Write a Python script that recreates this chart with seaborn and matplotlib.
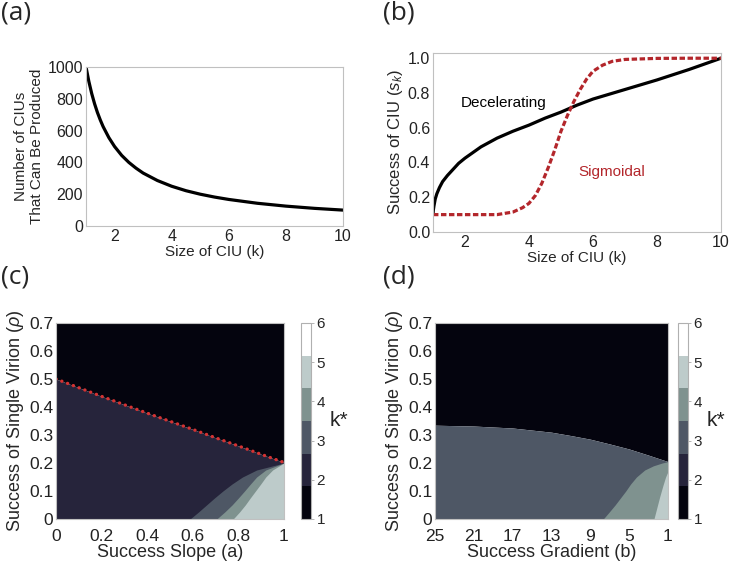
import numpy as np
import matplotlib
matplotlib.use("Agg")
import matplotlib.pyplot as plt
import seaborn as sns
from matplotlib.colors import ListedColormap, BoundaryNorm
import matplotlib.cm as cm

# ---------------- data ----------------
# (a) number of CIUs vs size of CIU
k_a = [1.0, 1.1, 1.2, 1.3, 1.4, 1.5, 1.6, 1.8, 2.0, 2.25, 2.5, 2.75, 3.0, 3.5,
       4.0, 4.5, 5.0, 5.5, 6.0, 7.0, 8.0, 9.0, 10.0]
n_a = [1000, 909, 833, 769, 714, 667, 625, 556, 500, 444, 400, 364, 333, 286,
       250, 222, 200, 182, 167, 143, 125, 111, 100]

# (b) success of CIU
k_dec = [1.0, 1.01, 1.03, 1.07, 1.12, 1.2, 1.3, 1.45, 1.6, 1.8, 2.0, 2.5, 3.0, 3.5, 4.0,
         4.5, 5.0, 5.5, 6.0, 7.0, 8.0, 9.0, 10.0]
s_dec = [0.10, 0.125, 0.15, 0.19, 0.22, 0.255, 0.29, 0.325, 0.355, 0.395, 0.425, 0.49,
         0.54, 0.58, 0.615, 0.655, 0.69, 0.73, 0.765, 0.82, 0.875, 0.935, 1.0]
k_sig = [1.0, 2.0, 3.0, 3.5, 3.8, 4.0, 4.2, 4.4, 4.6, 4.8, 5.0, 5.2, 5.4, 5.6,
         5.8, 6.0, 6.3, 6.6, 7.0, 8.0, 9.0, 10.0]
s_sig = [0.10, 0.10, 0.10, 0.115, 0.14, 0.165, 0.21, 0.28, 0.37, 0.47, 0.58,
         0.67, 0.75, 0.82, 0.88, 0.925, 0.96, 0.982, 0.993, 0.999, 1.0, 1.0]

# (c) k* regions vs success slope a
a_red = [0.0, 0.1, 0.2, 0.3, 0.4, 0.5, 0.6, 0.7, 0.8, 0.9, 1.0]
rho_red = [0.5, 0.469, 0.438, 0.408, 0.378, 0.349, 0.32, 0.29, 0.261, 0.231, 0.202]
rho_c = [0.0, 0.025, 0.05, 0.075, 0.1, 0.125, 0.15, 0.175, 0.2]
a_k3 = [0.588, 0.625, 0.66, 0.695, 0.732, 0.772, 0.818, 0.88, 1.0]
a_k4 = [0.705, 0.74, 0.772, 0.80, 0.827, 0.853, 0.88, 0.92, 1.0]
a_k5 = [0.777, 0.805, 0.83, 0.852, 0.875, 0.898, 0.92, 0.95, 1.0]

# (d) k* regions vs success gradient b
b_top = [25, 21, 17, 13, 11, 9, 7, 5, 3, 1]
rho_top = [0.335, 0.332, 0.325, 0.31, 0.298, 0.285, 0.268, 0.25, 0.228, 0.205]
rho_d4 = [0.0, 0.025, 0.05, 0.075, 0.1, 0.125, 0.15, 0.175, 0.19, 0.2, 0.205]
b_k4 = [7.67, 7.05, 6.45, 5.9, 5.35, 4.85, 4.25, 3.4, 2.5, 1.6, 1.0]
rho_d5 = [0.0, 0.04, 0.08, 0.12, 0.15, 0.17]
b_k5 = [2.45, 2.15, 1.85, 1.52, 1.25, 1.0]

kstar_levels = [1, 2, 3, 4, 5, 6]
kstar_colors = ["#04040e", "#26243b", "#4e5765", "#7f928f", "#bdcbca", "#ffffff"]

# ---------------- style ----------------
sns.set_theme(style="white")
plt.rcParams["font.family"] = ["Liberation Sans", "DejaVu Sans"]
plt.rcParams["mathtext.fontset"] = "custom"
plt.rcParams["mathtext.it"] = "Liberation Sans:italic"
plt.rcParams["mathtext.rm"] = "Liberation Sans"
TICK_AB = 11.5
LAB_AB = 11
TICK_CD = 12.5
LAB_CD = 13
SPINE = "#c0c0c0"

fig = plt.figure(figsize=(7.31, 5.65), dpi=100)

def style_axes(ax, size, minor=True, pad=2):
    for s in ax.spines.values():
        s.set_color(SPINE)
        s.set_linewidth(0.8)
    ax.tick_params(axis="both", labelsize=size, colors="#222222", direction="in",
                   length=3, width=0.6, color="#b0b0b0", pad=pad)
    if minor:
        ax.minorticks_on()
        ax.tick_params(which="minor", direction="in", length=1.5, width=0.5, color="#c8c8c8")

# (a)
axA = fig.add_axes([86/731, 1-226/565, 257/731, 159/565])
sns.lineplot(x=k_a, y=n_a, ax=axA, color="black", lw=2.3)
axA.set_xlim(1, 10)
axA.set_ylim(0, 1000)
axA.set_xticks([2, 4, 6, 8, 10])
axA.set_yticks([0, 200, 400, 600, 800, 1000])
style_axes(axA, TICK_AB)
axA.set_xlabel("Size of CIU (k)", fontsize=LAB_AB, labelpad=1)
axA.set_ylabel("Number of CIUs\nThat Can Be Produced", fontsize=LAB_AB, labelpad=3, linespacing=1.1)

# (b)
axB = fig.add_axes([433/731, 1-232/565, 288/731, 179/565])
sns.lineplot(x=k_dec, y=s_dec, ax=axB, color="black", lw=2.3)
sns.lineplot(x=k_sig, y=s_sig, ax=axB, color="#b3262b", lw=2.3)
axB.lines[-1].set_linestyle((0, (1.7, 0.8)))
axB.set_xlim(1, 10)
axB.set_ylim(0, 1.03)
axB.set_xticks([2, 4, 6, 8, 10])
axB.set_yticks([0, 0.2, 0.4, 0.6, 0.8, 1.0])
axB.set_yticklabels(["0.0", "0.2", "0.4", "0.6", "0.8", "1.0"])
style_axes(axB, TICK_AB)
axB.set_xlabel("Size of CIU (k)", fontsize=LAB_AB, labelpad=1)
axB.set_ylabel("Success of CIU ($s_k$)", fontsize=12, labelpad=2)
axB.text(3.2, 0.745, "Decelerating", fontsize=LAB_AB, ha="center", va="center", color="black")
axB.text(6.6, 0.345, "Sigmoidal", fontsize=LAB_AB, ha="center", va="center", color="#b3262b")

cmap = ListedColormap(kstar_colors)
norm = BoundaryNorm(np.linspace(1, 6, 7), cmap.N)

def colorbar(cax):
    sm = cm.ScalarMappable(norm=norm, cmap=cmap)
    cb = fig.colorbar(sm, cax=cax, ticks=kstar_levels)
    cb.outline.set_edgecolor("#b0b0b0")
    cb.outline.set_linewidth(0.8)
    cax.minorticks_off()
    cax.tick_params(which="minor", length=0)
    cax.tick_params(labelsize=11, length=2, width=0.5, color="#999999", pad=2)
    cax.set_yticklabels([str(v) for v in kstar_levels])
    cax.set_ylabel("k*", fontsize=15, rotation=0, labelpad=10, va="center")
    return cb

# (c)
axC = fig.add_axes([56/731, 1-519/565, 228/731, 196/565])
axC.fill_between(a_red, rho_red, 0.7, color=kstar_colors[0], lw=0)
axC.fill_between(a_red, 0, rho_red, color=kstar_colors[1], lw=0)
axC.fill_betweenx(rho_c, a_k3, 1, color=kstar_colors[2], lw=0)
axC.fill_betweenx(rho_c, a_k4, 1, color=kstar_colors[3], lw=0)
axC.fill_betweenx(rho_c, a_k5, 1, color=kstar_colors[4], lw=0)
sns.lineplot(x=a_red, y=rho_red, ax=axC, color="#d43232", lw=2.4)
axC.lines[-1].set_linestyle((0, (0.05, 1.8)))
axC.lines[-1].set_dash_capstyle("round")
axC.set_xlim(0, 1)
axC.set_ylim(0, 0.7)
axC.set_xticks([0, 0.2, 0.4, 0.6, 0.8, 1])
axC.set_xticklabels(["0", "0.2", "0.4", "0.6", "0.8", "1"])
axC.set_yticks([0, 0.1, 0.2, 0.3, 0.4, 0.5, 0.6, 0.7])
axC.set_yticklabels(["0", "0.1", "0.2", "0.3", "0.4", "0.5", "0.6", "0.7"])
style_axes(axC, TICK_CD, minor=False)
axC.tick_params(length=0)
axC.tick_params(axis="x", pad=7)
axC.set_xlabel("Success Slope (a)", fontsize=LAB_CD, labelpad=0)
axC.set_ylabel("Success of Single Virion ($\\rho$)", fontsize=LAB_CD, labelpad=2)
caxC = fig.add_axes([301/731, 1-519/565, 10/731, 196/565])
colorbar(caxC)

# (d)
axD = fig.add_axes([435/731, 1-519/565, 233/731, 196/565])
axD.fill_between(b_top, rho_top, 0.7, color=kstar_colors[0], lw=0)
axD.fill_between(b_top, 0, rho_top, color=kstar_colors[2], lw=0)
axD.fill_betweenx(rho_d4, b_k4, 1, color=kstar_colors[3], lw=0)
axD.fill_betweenx(rho_d5, b_k5, 1, color=kstar_colors[4], lw=0)
axD.set_xlim(25, 1)
axD.set_ylim(0, 0.7)
axD.set_xticks([25, 21, 17, 13, 9, 5, 1])
axD.set_yticks([0, 0.1, 0.2, 0.3, 0.4, 0.5, 0.6, 0.7])
axD.set_yticklabels(["0", "0.1", "0.2", "0.3", "0.4", "0.5", "0.6", "0.7"])
style_axes(axD, TICK_CD, minor=False)
axD.tick_params(length=0)
axD.tick_params(axis="x", pad=7)
axD.set_xlabel("Success Gradient (b)", fontsize=LAB_CD, labelpad=0)
axD.set_ylabel("Success of Single Virion ($\\rho$)", fontsize=LAB_CD, labelpad=2)
caxD = fig.add_axes([678/731, 1-519/565, 10/731, 196/565])
colorbar(caxD)

# panel letters
for lab, x, y in [("(a)", 1, 0), ("(b)", 383, 0), ("(c)", 1, 264), ("(d)", 383, 264)]:
    fig.text(x/731, 1-y/565, lab, fontsize=19, ha="left", va="top",
             family=["Open Sans", "DejaVu Sans"])

fig.savefig("out.png", dpi=100)
